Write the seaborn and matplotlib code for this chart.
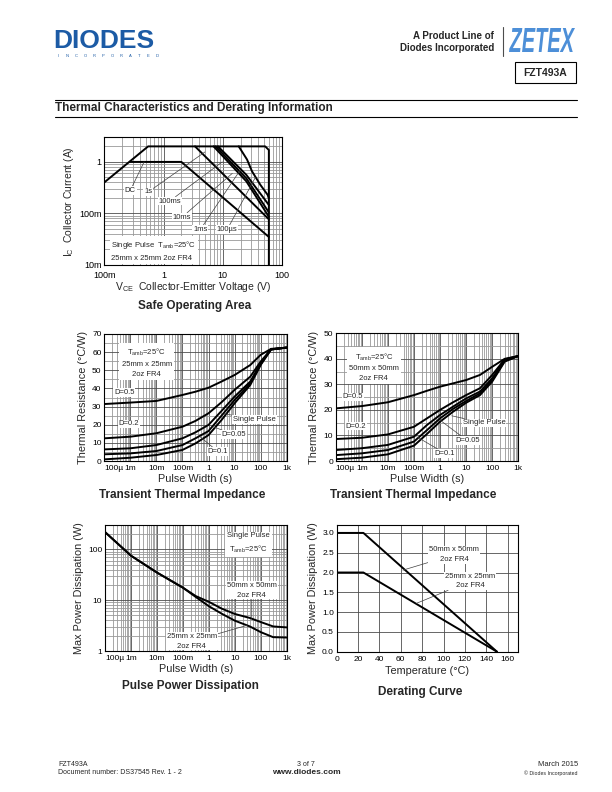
import numpy as np
import pandas as pd
import seaborn as sns
import matplotlib.pyplot as plt
from matplotlib.lines import Line2D
from matplotlib.patches import Rectangle, PathPatch
from matplotlib.textpath import TextPath
from matplotlib.font_manager import FontProperties
from matplotlib.transforms import Affine2D
from matplotlib.ticker import LogLocator, MultipleLocator, NullFormatter

# safe operating area, V_CE (V) / I_C (A)
soa_limit_v = [0.1, 0.55, 52, 60, 60]
soa_limit_i = [0.4, 2.0, 2.0, 1.7, 0.01]
soa_dc_v = [0.27, 2.0, 60]
soa_dc_i = [1.0, 1.0, 0.035]
soa_1s_v = [3.4, 60]
soa_1s_i = [2.0, 0.077]
soa_100ms_v = [7.0, 25, 60]
soa_100ms_i = [2.0, 0.42, 0.086]
soa_10ms_v = [7.6, 25, 60]
soa_10ms_i = [2.0, 0.48, 0.105]
soa_1ms_v = [8.3, 25, 60]
soa_1ms_i = [2.0, 0.56, 0.146]
soa_100us_v = [18.6, 25.7, 31.2, 43.1, 57.3, 60]
soa_100us_i = [2.0, 1.11, 0.655, 0.359, 0.229, 0.197]

# transient thermal impedance, 25mm x 25mm
tti1_t = [1e-4, 1e-3, 1e-2, 0.1, 0.316, 1, 3.16, 10, 40, 100, 250, 1000]
tti1_d50 = [31.4, 32.2, 33.1, 36.4, 38.2, 40.4, 43.8, 47.4, 52.9, 58.5, 61.8, 62.5]
tti1_d20 = [12.5, 13.4, 15.3, 18.9, 22.1, 26.3, 32.4, 39.2, 46.5, 54.8, 61.5, 62.5]
tti1_d10 = [6.4, 7.0, 8.8, 12.5, 15.8, 19.9, 27.6, 35.5, 43.8, 53.9, 61.6, 62.5]
tti1_d05 = [3.7, 4.2, 5.5, 8.8, 12.5, 16.5, 25.0, 33.6, 42.8, 53.3, 61.5, 62.5]
tti1_single = [0.9, 1.8, 3.3, 6.1, 9.7, 14.3, 22.6, 31.8, 41.9, 52.9, 61.4, 62.5]

# transient thermal impedance, 50mm x 50mm
tti2_t = [1e-4, 1e-3, 1e-2, 0.1, 0.316, 1, 3.16, 10, 34, 100, 300, 1000]
tti2_d50 = [20.6, 21.5, 23.0, 25.8, 27.5, 29.1, 30.4, 31.7, 33.7, 36.9, 40.0, 41.1]
tti2_d20 = [8.6, 9.1, 10.4, 13.4, 16.7, 20.0, 23.0, 25.8, 28.5, 33.7, 39.8, 41.1]
tti2_d10 = [4.3, 5.0, 6.3, 9.5, 14.1, 18.0, 21.3, 24.5, 27.2, 32.4, 39.6, 41.1]
tti2_d05 = [2.3, 3.0, 4.3, 7.6, 12.1, 16.7, 20.4, 23.5, 26.5, 31.7, 39.2, 41.1]
tti2_single = [0.7, 1.3, 2.6, 6.0, 10.6, 15.4, 19.3, 22.8, 25.8, 31.1, 38.9, 41.1]

# pulse power dissipation (W)
ppd_t = [1e-4, 1e-3, 1e-2, 0.1, 0.316, 1, 3.16, 10, 38, 100, 300, 1000]
ppd_25mm = [218, 74.8, 34.9, 17.6, 11.5, 7.6, 5.4, 3.95, 3.04, 2.35, 1.87, 1.84]
ppd_50mm = [218, 74.8, 34.9, 17.6, 12.0, 9.27, 6.8, 5.35, 4.46, 3.71, 3.04, 2.91]

# derating
der_temp = [0, 25, 150]
der_50mm = [3.0, 3.0, 0.0]
der_25mm = [2.0, 2.0, 0.0]

time_ticks = [1e-4, 1e-3, 1e-2, 0.1, 1, 10, 100, 1000]
time_labels = ["100\u00b5", "1m", "10m", "100m", "1", "10", "100", "1k"]

sns.set_style("white")
plt.rcParams["font.family"] = ["Liberation Sans", "DejaVu Sans"]
plt.rcParams["mathtext.fontset"] = "custom"
plt.rcParams["mathtext.rm"] = "Liberation Sans"

W, H = 612, 792
fig = plt.figure(figsize=(6.12, 7.92), dpi=100)


def box(l, t, r, b):
    return [l / W, 1 - b / H, (r - l) / W, (b - t) / H]


def ftext(x, y, s, **kw):
    fig.text(x / W, 1 - y / H, s, **kw)


def hline(x0, x1, y, lw=0.8, color="black"):
    fig.add_artist(Line2D([x0 / W, x1 / W], [1 - y / H, 1 - y / H], lw=lw, color=color))


def style_axes(ax, logx=True, logy=False):
    for s in ax.spines.values():
        s.set_color("black")
        s.set_linewidth(0.8)
    ax.tick_params(which="both", length=0, pad=2, labelsize=6, colors="black")
    ax.tick_params(axis="x", pad=3)
    if logx:
        ax.xaxis.set_minor_locator(LogLocator(base=10, subs=np.arange(2, 10), numticks=100))
        ax.xaxis.set_minor_formatter(NullFormatter())
    if logy:
        ax.yaxis.set_minor_locator(LogLocator(base=10, subs=np.arange(2, 10), numticks=100))
        ax.yaxis.set_minor_formatter(NullFormatter())
    ax.grid(which="major", color="0.3", lw=0.6)
    ax.grid(which="minor", color="0.6", lw=0.6)
    ax.set_axisbelow(True)


def time_axis(ax):
    ax.set_xticks(time_ticks, time_labels)
    # first label sits just inside the left edge, as on the datasheet
    ax.get_xticklabels()[0].set_horizontalalignment("left")


def curve(ax, x, y, lw=1.4):
    sns.lineplot(x=x, y=y, ax=ax, color="black", linewidth=lw, sort=False, estimator=None)


label_kw = dict(fontsize=5.5, ha="center", va="center",
                bbox=dict(fc="white", ec="none", pad=0.6))
lead_kw = dict(arrowstyle="-", lw=0.5, color="0.25", shrinkA=0, shrinkB=0)

# ---- Safe operating area
ax = fig.add_axes(box(104.3, 137.3, 282, 265))
ax.set_xscale("log")
ax.set_yscale("log")
for v, i in [(soa_limit_v, soa_limit_i), (soa_dc_v, soa_dc_i), (soa_1s_v, soa_1s_i),
             (soa_100ms_v, soa_100ms_i), (soa_10ms_v, soa_10ms_i),
             (soa_1ms_v, soa_1ms_i), (soa_100us_v, soa_100us_i)]:
    curve(ax, v, i)
ax.set_xlim(0.1, 100)
ax.set_ylim(0.01, 3)
style_axes(ax, True, True)
ax.set_xticks([0.1, 1, 10, 100], ["100m", "1", "10", "100"])
ax.set_yticks([0.01, 0.1, 1], ["10m", "100m", "1"])
ax.tick_params(labelsize=6.5)
ax.tick_params(axis="x", pad=4)
ax.set_xlabel("V$_\\mathregular{CE}$  Collector-Emitter Voltage (V)", fontsize=7.5, labelpad=0)
ax.set_ylabel("I$_\\mathregular{C}$  Collector Current (A)", fontsize=7.5, labelpad=2)
for txt, pos, end in [("DC", (0.275, 0.28), (0.47, 1.0)),
                      ("1s", (0.555, 0.262), (5.0, 1.56)),
                      ("100ms", (1.27, 0.174), (9.8, 1.0)),
                      ("10ms", (2.06, 0.085), (14.5, 0.6)),
                      ("1ms", (4.2, 0.049), (19.8, 0.7)),
                      ("100\u00b5s", (11.9, 0.049), (35.5, 0.5))]:
    ax.annotate(txt, xy=end, xytext=pos, arrowprops=lead_kw, **label_kw)
ax.text(0.13, 0.019, "Single Pulse  T$_\\mathregular{amb}$=25\u00b0C\n25mm x 25mm 2oz FR4",
        fontsize=5.5, ha="left", va="center", linespacing=1.9,
        bbox=dict(fc="white", ec="none", pad=1))
ftext(195, 306, "Safe Operating Area", fontsize=8.5, weight="bold", ha="center", va="center")

# ---- Transient thermal impedance, two boards
tti_sets = [
    (box(104.3, 334, 286.7, 461), tti1_t, [tti1_d50, tti1_d20, tti1_d10, tti1_d05, tti1_single], 70,
     "25mm x 25mm", 182,
     [("D=0.5", (5.9e-4, 37.9), None), ("D=0.2", (8.9e-4, 20.4), None),
      ("Single Pulse", (58, 22.9), (4.3, 26.0)), ("D=0.05", (9.5, 14.6), (1.5, 18.9)),
      ("D=0.1", (2.3, 5.2), (0.47, 13.4))],
     (4.2e-3, 54.5)),
    (box(335.7, 333.3, 518.3, 461), tti2_t, [tti2_d50, tti2_d20, tti2_d10, tti2_d05, tti2_single], 50,
     "50mm x 50mm", 413,
     [("D=0.5", (4.6e-4, 25.1), None), ("D=0.2", (6e-4, 13.7), None),
      ("Single Pulse", (48, 14.9), (2.8, 17.7)), ("D=0.05", (11.3, 7.9), (1.0, 16.0)),
      ("D=0.1", (1.55, 3.0), (0.127, 9.5))],
     (2.9e-3, 37.0)),
]
for rect, t, series, ymax, board, title_x, labels, box_pos in tti_sets:
    ax = fig.add_axes(rect)
    ax.set_xscale("log")
    df = pd.DataFrame({"t": np.tile(t, len(series)),
                       "r": np.concatenate(series),
                       "curve": np.repeat(np.arange(len(series)), len(t))})
    sns.lineplot(data=df, x="t", y="r", units="curve", estimator=None, color="black",
                 linewidth=1.4, ax=ax)
    ax.set_xlim(1e-4, 1000)
    ax.set_ylim(0, ymax)
    ax.yaxis.set_major_locator(MultipleLocator(10))
    ax.yaxis.set_minor_locator(MultipleLocator(5))
    style_axes(ax, True, False)
    time_axis(ax)
    ax.set_xlabel("Pulse Width (s)", fontsize=7.8, labelpad=1)
    ax.set_ylabel("Thermal Resistance (\u00b0C/W)", fontsize=7.8, labelpad=3)
    for txt, pos, end in labels:
        if end is None:
            ax.text(*pos, txt, **label_kw)
        else:
            ax.annotate(txt, xy=end, xytext=pos, arrowprops=lead_kw, **label_kw)
    ax.text(*box_pos, "T$_\\mathregular{amb}$=25\u00b0C\n" + board + "\n2oz FR4", fontsize=5.5,
            ha="center", va="center", linespacing=1.55, bbox=dict(fc="white", ec="none", pad=1.5))
    ftext(title_x, 495, "Transient Thermal Impedance", fontsize=8.5, weight="bold",
          ha="center", va="center")

# ---- Pulse power dissipation
ax = fig.add_axes(box(105, 525, 286.7, 651))
ax.set_xscale("log")
ax.set_yscale("log")
curve(ax, ppd_t, ppd_50mm)
curve(ax, ppd_t, ppd_25mm)
ax.set_xlim(1e-4, 1000)
ax.set_ylim(1, 300)
style_axes(ax, True, True)
time_axis(ax)
ax.set_yticks([1, 10, 100], ["1", "10", "100"])
ax.set_xlabel("Pulse Width (s)", fontsize=7.8, labelpad=1)
ax.set_ylabel("Max Power Dissipation (W)", fontsize=7.8, labelpad=3)
ax.text(33, 130, "Single Pulse\nT$_\\mathregular{amb}$=25\u00b0C", fontsize=5.5, ha="center",
        va="center", linespacing=1.5, bbox=dict(fc="white", ec="none", pad=1.5))
ax.annotate("50mm x 50mm\n2oz FR4", xy=(45, 4.4), xytext=(45, 15.6), arrowprops=lead_kw,
            linespacing=1.5, **label_kw)
ax.annotate("25mm x 25mm\n2oz FR4", xy=(30, 3.2), xytext=(0.22, 1.55), arrowprops=lead_kw,
            linespacing=1.5, **label_kw)
ftext(190, 686, "Pulse Power Dissipation", fontsize=8.5, weight="bold", ha="center", va="center")

# ---- Derating curve
ax = fig.add_axes(box(336.7, 525, 518.3, 651.7))
curve(ax, der_temp, der_50mm)
curve(ax, der_temp, der_25mm)
ax.set_xlim(0, 170)
ax.set_ylim(0, 3.2)
ax.set_xticks(range(0, 161, 20))
ax.set_yticks(np.arange(0, 3.01, 0.5))
ax.yaxis.set_major_formatter(plt.FuncFormatter(lambda v, p: f"{v:.1f}"))
style_axes(ax, False, False)
ax.grid(which="minor", visible=False)
ax.set_xlabel("Temperature (\u00b0C)", fontsize=7.8, labelpad=2)
ax.set_ylabel("Max Power Dissipation (W)", fontsize=7.8, labelpad=3)
ax.annotate("50mm x 50mm\n2oz FR4", xy=(62, 2.06), xytext=(110, 2.45), arrowprops=lead_kw,
            linespacing=1.5, **label_kw)
ax.annotate("25mm x 25mm\n2oz FR4", xy=(74.5, 1.22), xytext=(125, 1.78), arrowprops=lead_kw,
            linespacing=1.5, **label_kw)
ftext(420, 692, "Derating Curve", fontsize=8.5, weight="bold", ha="center", va="center")

# ---- page header
ftext(53, 53, "DIODES", fontsize=19, weight="bold", color="#1c5ba5", ha="left", va="bottom")
for k, ch in enumerate("INCORPORATED"):
    ftext(58 + k * 9.0, 56, ch, fontsize=3, color="#1c5ba5", ha="center", va="center")
ftext(494, 36, "A Product Line of", fontsize=7, weight="bold", ha="right", va="center")
ftext(494, 48, "Diodes Incorporated", fontsize=7, weight="bold", ha="right", va="center")
fig.add_artist(Line2D([503 / W, 503 / W], [1 - 27 / H, 1 - 56 / H], lw=0.8, color="0.3"))

# condensed ZETEX word mark: 65 px wide, 24 px cap height
zetex = TextPath((0, 0), "ZETEX", size=1,
                 prop=FontProperties(family="Liberation Sans", weight="bold", style="italic"))
zb = zetex.get_extents()
sx = 66 / zb.width
sy = 24 / zb.height
ztr = Affine2D().translate(-zb.x0, -zb.y0).scale(sx / W, sy / H).translate(509 / W, 1 - 52 / H)
fig.add_artist(PathPatch(zetex, fc="#4d8fd8", ec="none", transform=ztr + fig.transFigure))

fig.add_artist(Rectangle((515 / W, 1 - 83 / H), 61 / W, 21 / H, fill=False, lw=0.8,
                         ec="black", transform=fig.transFigure))
ftext(545.5, 72.5, "FZT493A", fontsize=7.5, weight="bold", ha="center", va="center")
hline(55, 577, 100)
ftext(55, 108.5, "Thermal Characteristics and Derating Information", fontsize=8.5,
      weight="bold", ha="left", va="center")
hline(55, 577, 117)

# ---- page footer
ftext(58, 765, "FZT493A", fontsize=5, ha="left", va="center")
ftext(58, 773, "Document number: DS37545 Rev. 1 - 2", fontsize=5, ha="left", va="center")
ftext(306, 765, "3 of 7", fontsize=5, ha="center", va="center")
ftext(306, 773, "www.diodes.com", fontsize=6, weight="bold", ha="center", va="center")
ftext(578, 765, "March 2015", fontsize=5.5, ha="right", va="center")
ftext(578, 773, "\u00a9 Diodes Incorporated", fontsize=3.8, ha="right", va="center")

fig.savefig("out.png", dpi=100)
